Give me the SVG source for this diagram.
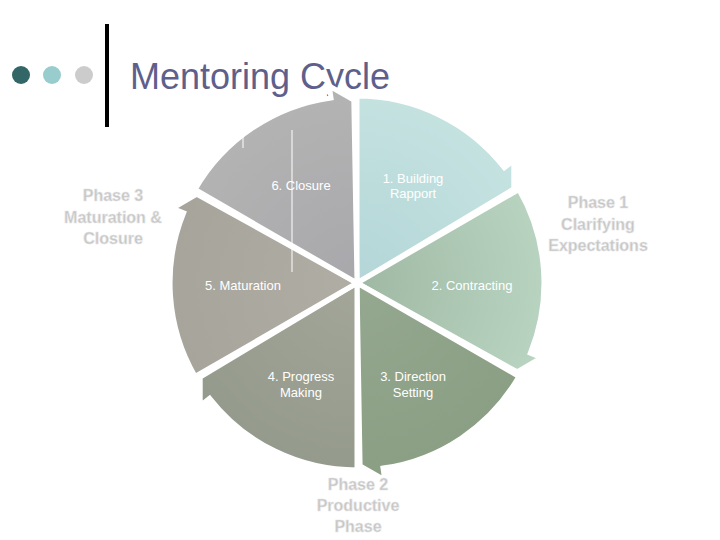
<svg xmlns="http://www.w3.org/2000/svg" width="720" height="540" viewBox="0 0 720 540">
<style>
.w{stroke:#fff;stroke-width:5;stroke-linejoin:miter}
.t{font-family:"Liberation Sans",Arial,sans-serif;font-size:13px;fill:#fff;text-anchor:middle}
.p{font-family:"Liberation Sans",Arial,sans-serif;font-size:16px;font-weight:bold;fill:#c4c4c4;stroke:#e6e6e6;stroke-width:0.6;text-anchor:middle}
</style>
<defs>
<radialGradient id="g1" cx="357" cy="283" r="190" gradientUnits="userSpaceOnUse"><stop offset="0" stop-color="#b4d6d8"/><stop offset="1" stop-color="#c4e2e0"/></radialGradient>
<radialGradient id="g2" cx="357" cy="283" r="190" gradientUnits="userSpaceOnUse"><stop offset="0" stop-color="#9fb8a4"/><stop offset="1" stop-color="#b8d4c0"/></radialGradient>
<radialGradient id="g3" cx="357" cy="283" r="190" gradientUnits="userSpaceOnUse"><stop offset="0" stop-color="#95a890"/><stop offset="1" stop-color="#8a9f84"/></radialGradient>
<radialGradient id="g4" cx="357" cy="283" r="190" gradientUnits="userSpaceOnUse"><stop offset="0" stop-color="#a3a698"/><stop offset="1" stop-color="#949a8c"/></radialGradient>
<radialGradient id="g5" cx="357" cy="283" r="190" gradientUnits="userSpaceOnUse"><stop offset="0" stop-color="#b0ada4"/><stop offset="1" stop-color="#a7a49c"/></radialGradient>
<radialGradient id="g6" cx="357" cy="283" r="190" gradientUnits="userSpaceOnUse"><stop offset="0" stop-color="#a8a8ac"/><stop offset="1" stop-color="#b3b3b3"/></radialGradient>
</defs>
<rect width="720" height="540" fill="#fff"/>
<g id="header">
<circle cx="21" cy="75" r="9" fill="#336666"/>
<circle cx="52" cy="75" r="9" fill="#99cccc"/>
<circle cx="84" cy="75" r="9" fill="#cccccc"/>
<rect x="105" y="24" width="4" height="103" fill="#000"/>
<text x="130" y="89" font-family="Liberation Sans,Arial,sans-serif" font-size="36" fill="#5f5f8c">Mentoring Cycle</text>
</g>
<g id="cycle">
<g id="w1"><path class="w" fill="url(#g1)" d="M357 283 L357 96 A187 187 0 0 1 504.4 167.8 L513.8 160.4 L513.8 188.8 Z"/></g>
<g id="w2"><path class="w" fill="url(#g2)" d="M357 283 L518.9 189.5 A187 187 0 0 1 530.3 353.1 L541.5 357.6 L517.1 371.8 Z"/></g>
<g id="w3"><path class="w" fill="url(#g3)" d="M357 283 L518.9 376.5 A187 187 0 0 1 383 468.1 L384.7 480 L360.1 466 Z"/></g>
<g id="w4"><path class="w" fill="url(#g4)" d="M357 283 L357 470 A187 187 0 0 1 209.6 398.2 L200.2 405.6 L200.2 377.2 Z"/></g>
<g id="w5"><path class="w" fill="url(#g5)" d="M357 283 L195.1 376.5 A187 187 0 0 1 183.7 212.9 L172.5 208.4 L196.9 194.2 Z"/></g>
<g id="w6"><path class="w" fill="url(#g6)" d="M357 283 L195.1 189.5 A187 187 0 0 1 331 97.9 L329.3 86 L353.8 100 Z"/></g>
<line x1="243" y1="130" x2="243" y2="148" stroke="#fff" stroke-width="1"/>
<line x1="292" y1="130" x2="292" y2="272" stroke="#fff" stroke-width="1"/>
</g>
<g id="labels">
<text class="t" x="413" y="183">1. Building</text><text class="t" x="413" y="198">Rapport</text>
<text class="t" x="472" y="290">2. Contracting</text>
<text class="t" x="413" y="381">3. Direction</text><text class="t" x="413" y="397">Setting</text>
<text class="t" x="301" y="381">4. Progress</text><text class="t" x="301" y="397">Making</text>
<text class="t" x="243" y="290">5. Maturation</text>
<text class="t" x="301" y="190">6. Closure</text>
<text class="p" x="598" y="208">Phase 1</text><text class="p" x="598" y="230">Clarifying</text><text class="p" x="598" y="251">Expectations</text>
<text class="p" x="113" y="201">Phase 3</text><text class="p" x="113" y="223">Maturation &amp;</text><text class="p" x="113" y="244">Closure</text>
<text class="p" x="358" y="490">Phase 2</text><text class="p" x="358" y="511">Productive</text><text class="p" x="358" y="532">Phase</text>
</g>
</svg>
